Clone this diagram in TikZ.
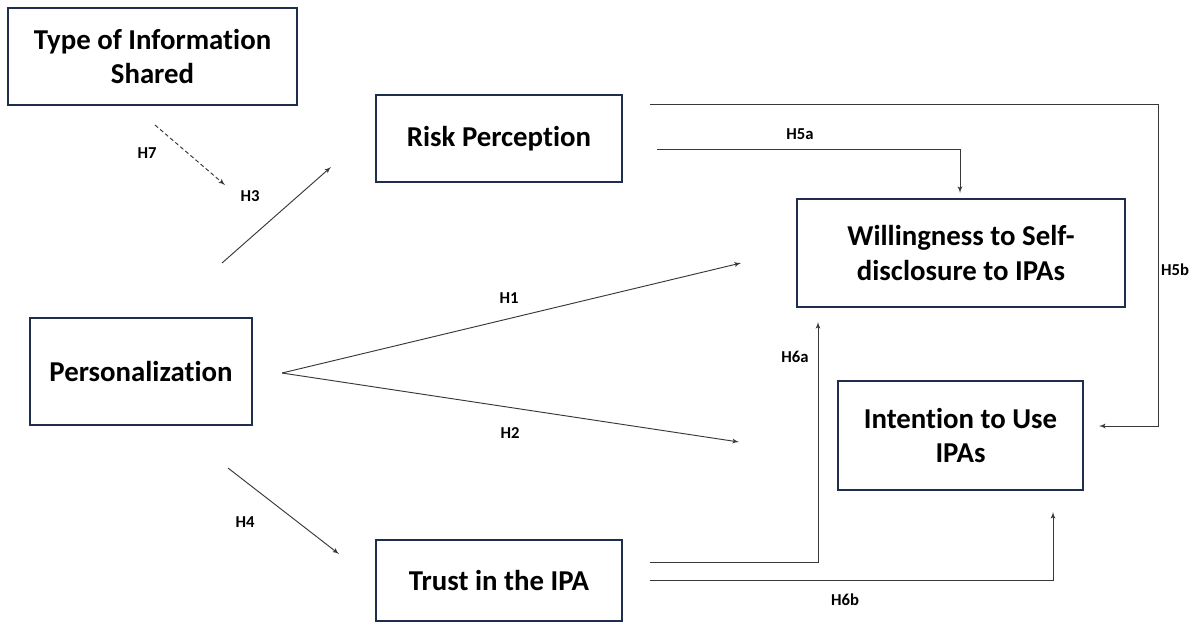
\documentclass[tikz,border=0pt]{standalone}
\usepackage{fontspec}
\setmainfont{Carlito}[Ligatures=NoCommon]
\usepackage{xcolor}
\usetikzlibrary{arrows}
\usetikzlibrary{arrows.meta}
\definecolor{boxnavy}{HTML}{1F2E4E}
\definecolor{linegray}{HTML}{383838}
\tikzset{
  varbox/.style={draw=boxnavy, line width=1.9pt, fill=white, align=center, inner sep=0pt},
  hyp/.style={linegray, line width=0.7pt, -latex'},
  hlabel/.style={font=\bfseries\fontsize{12.5}{15}\selectfont}
}

\begin{document}
\begin{tikzpicture}[x=0.75pt, y=-0.75pt, inner sep=1pt, font=\bfseries\fontsize{21.6}{26}\selectfont]
    \useasboundingbox[fill=white] (0,0) rectangle (1202,626);
    % constructs
    \node[varbox, minimum width=216.75pt, minimum height=72.75pt] (info) at (152.5,56.5) {Type of Information\\Shared};
    \node[varbox, minimum width=184.5pt, minimum height=65.25pt] (risk) at (499,138.5) {Risk Perception};
    \node[varbox, minimum width=246pt, minimum height=81pt] (will) at (961,253) {Willingness to Self-\\disclosure to IPAs};
    \node[varbox, minimum width=183.75pt, minimum height=81.75pt] (intent) at (960.5,435.5) {Intention to Use\\IPAs};
    \node[varbox, minimum width=166.5pt, minimum height=80.25pt] (pers) at (141,371.5) {Personalization};
    \node[varbox, minimum width=184.5pt, minimum height=60.75pt] (trust) at (499,580.5) {Trust in the IPA};
    % arrow ends
    \coordinate (h7s) at (155,125);
    \coordinate (h7e) at (225,185);
    \coordinate (h3s) at (222,263);
    \coordinate (h3e) at (331,167);
    \coordinate (h12s) at (282,373);
    \coordinate (h1e) at (741,263);
    \coordinate (h2e) at (739,442);
    \coordinate (h4s) at (228,468);
    \coordinate (h4e) at (339,554);
    \coordinate (h5as) at (657,149);
    \coordinate (h5ae) at (960,193);
    \coordinate (h5bs) at (650,104);
    \coordinate (h5be) at (1099,426);
    \coordinate (h6as) at (650,562);
    \coordinate (h6ae) at (818,322);
    \coordinate (h6bs) at (650,580);
    \coordinate (h6be) at (1053,512);
    % hypotheses
    \draw[hyp, densely dashed] (h7s) -- (h7e);
    \draw[hyp] (h3s) -- (h3e);
    \draw[hyp] (h12s) -- (h1e);
    \draw[hyp] (h12s) -- (h2e);
    \draw[hyp] (h4s) -- (h4e);
    \draw[hyp] (h5as) -| (h5ae);
    \draw[hyp] (h5bs) -- (1158,104) |- (h5be);
    \draw[hyp] (h6as) -| (h6ae);
    \draw[hyp] (h6bs) -| (h6be);
    % labels
    \node[hlabel] (l7) at (147,153) {H7};
    \node[hlabel] (l3) at (250,196) {H3};
    \node[hlabel] (l1) at (509,298) {H1};
    \node[hlabel] (l2) at (510,433) {H2};
    \node[hlabel] (l4) at (245,522) {H4};
    \node[hlabel] (l5a) at (800,134) {H5a};
    \node[hlabel] (l5b) at (1175,270) {H5b};
    \node[hlabel] (l6a) at (795,357) {H6a};
    \node[hlabel] (l6b) at (845,600) {H6b};
  \end{tikzpicture}
\end{document}
